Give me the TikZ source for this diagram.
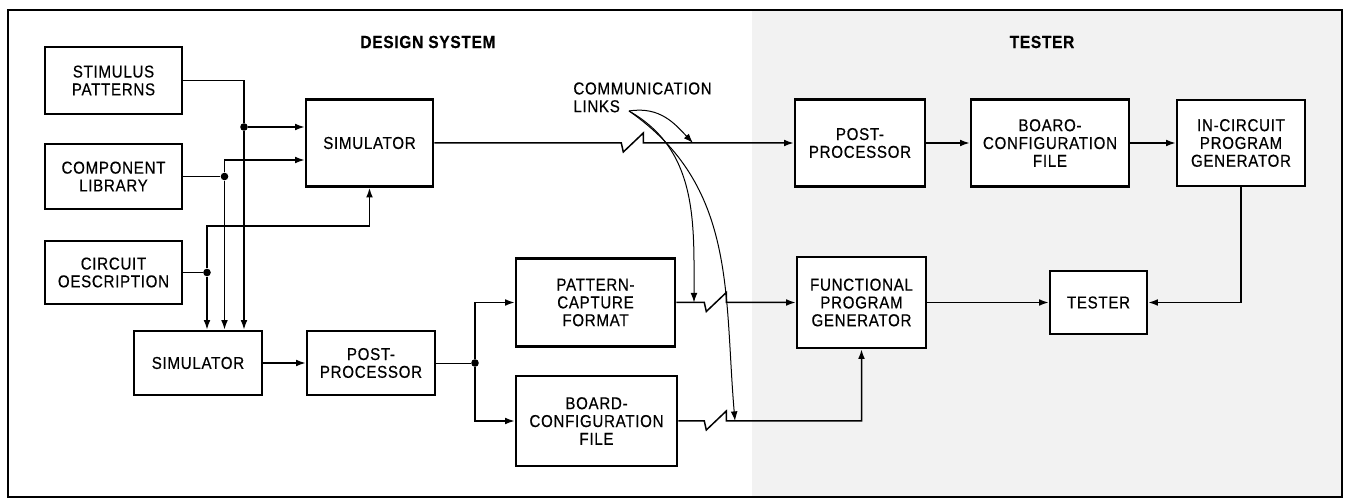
\documentclass[tikz,border=0pt]{standalone}
\usepackage{fontspec}
\setmainfont{Liberation Sans}[FakeStretch=0.88,LetterSpace=4,FakeBold=0.4]
\usetikzlibrary{arrows.meta,positioning}

\begin{document}
\begin{tikzpicture}[
x=0.5pt,y=-0.5pt,
blk/.style={draw,line width=1.3pt,fill=white,align=center,inner sep=0pt,
font=\fontsize{8.6}{8.9}\selectfont},
ttl/.style={font=\bfseries\fontsize{8.8}{9}\selectfont,inner sep=0pt},
arr/.style={-{Latex[length=4.8pt,width=3.4pt]},line width=0.75pt},
lnk/.style={-{Latex[length=4.8pt,width=3.4pt]},line width=0.5pt},
jn/.style={circle,fill,inner sep=0pt,minimum size=3.8pt}
]
\useasboundingbox (0,0) rectangle (1346,502);
\fill[black!5] (752,10) rectangle (1342,497);
\draw[line width=1pt] (8,10) rectangle (1342,497);

\node[ttl,anchor=west] (dsys) at (360,42) {DESIGN SYSTEM};
\node[ttl] (tsys) at (1042,42) {TESTER};

\node[blk,minimum width=68.5pt,minimum height=33.5pt] (stim) at (113.5,80.5) {STIMULUS\\PATTERNS};
\node[blk,minimum width=68.5pt,minimum height=32.5pt] (comp) at (113.5,176.5) {COMPONENT\\LIBRARY};
\node[blk,minimum width=68.5pt,minimum height=31.5pt] (circ) at (113.5,272.5) {CIRCUIT\\OESCRIPTION};
\node[blk,minimum width=63.5pt,minimum height=43.5pt] (simA) at (369.5,143) {SIMULATOR};
\node[blk,minimum width=64pt,minimum height=32pt] (simB) at (198,363) {SIMULATOR};
\node[blk,minimum width=64pt,minimum height=32pt] (postA) at (371,363) {POST-\\PROCESSOR};
\node[blk,minimum width=79.5pt,minimum height=44pt] (pcf) at (595.5,302.5) {PATTERN-\\CAPTURE\\FORMAT};
\node[blk,minimum width=80.5pt,minimum height=45pt] (bcfA) at (596.5,421) {BOARD-\\CONFIGURATION\\FILE};
\node[blk,minimum width=65pt,minimum height=43.5pt] (postB) at (860,143) {POST-\\PROCESSOR};
\node[blk,minimum width=79pt,minimum height=43.5pt] (bcfB) at (1050,143) {BOARO-\\CONFIGURATION\\FILE};
\node[blk,minimum width=64pt,minimum height=43pt] (icpg) at (1241,143) {IN-CIRCUIT\\PROGRAM\\GENERATOR};
\node[blk,minimum width=64.5pt,minimum height=45.5pt] (fpg) at (861.5,302.5) {FUNCTIONAL\\PROGRAM\\GENERATOR};
\node[blk,minimum width=48.5pt,minimum height=31.5pt] (tst) at (1098.5,302.5) {TESTER};

\node[jn] (j1) at (244,127) {};
\node[jn] (j2) at (224.5,176.5) {};
\node[jn] (j3) at (207,272.5) {};
\node[jn] (j4) at (475,363) {};

\draw[arr] (stim.east) -| (j1) -- (j1 |- simB.north);
\draw[arr] (j1) -- (j1 -| simA.west);
\draw (comp.east) -- (j2);
\draw[arr] (j2) -- (j2 |- 0,160) -- (simA.west |- 0,160);
\draw[arr] (j2) -- (j2 |- simB.north);
\draw (circ.east) -- (j3);
\draw[arr] (j3) -- (j3 |- simB.north);
\draw[arr] (j3) -- (j3 |- 0,226) -| (simA.south);
\draw[arr] (simB.east) -- (postA.west);
\draw (postA.east) -- (j4);
\draw[arr] (j4) |- (pcf.west);
\draw[arr] (j4) |- (bcfA.west);

\draw[arr] (simA.east) -- ++(187,0) -- ++(2,9) -- ++(20,-19) -- ++(0,10) -- (postB.west);
\draw[arr] (pcf.east) -- ++(28,0) -- ++(2,9) -- ++(20,-19) -- ++(0,10) -- (fpg.west);
\draw[arr] (bcfA.east) -- ++(26,0) -- ++(2,9) -- ++(20,-19) -- ++(0,10) -| (fpg.south);

\draw[arr] (postB) -- (bcfB);
\draw[arr] (bcfB) -- (icpg);
\draw[arr] (fpg.east) -- (tst.west);
\draw[arr] (icpg.south) |- (tst.east);

\node[anchor=north west,align=left,inner sep=0pt,font=\fontsize{8.6}{8.9}\selectfont] (comm) at (573,82) {COMMUNICATION\\LINKS};
\coordinate (c0) at (629,111);
\coordinate (t1) at (693,143);
\coordinate (t2) at (694,302.5);
\coordinate (t3) at (735,421);
\draw[lnk] (c0) .. controls (660,106) and (675,124) .. (t1);
\draw[lnk] (c0) .. controls (698,150) and (694,223) .. (t2);
\draw[lnk] (c0) .. controls (737,186) and (724,294) .. (t3);
\end{tikzpicture}
\end{document}
